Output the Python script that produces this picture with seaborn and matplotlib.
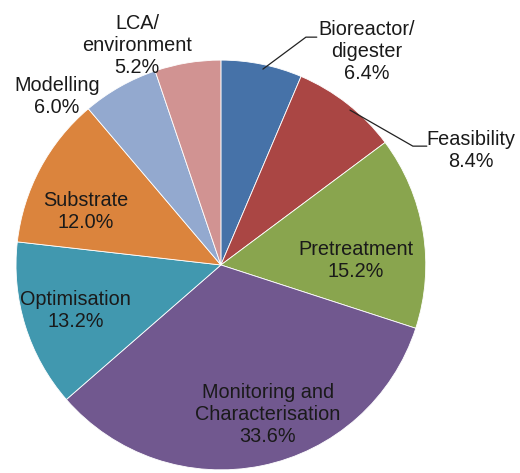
import matplotlib
matplotlib.use("Agg")
import matplotlib.pyplot as plt
import seaborn as sns

sns.set_theme(style="white")
plt.rcParams['font.family'] = ['Liberation Sans', 'DejaVu Sans']

topics = ['Bioreactor/\ndigester', 'Feasibility', 'Pretreatment',
          'Monitoring and\nCharacterisation', 'Optimisation', 'Substrate',
          'Modelling', 'LCA/\nenvironment']
shares = [6.4, 8.4, 15.2, 33.6, 13.2, 12.0, 6.0, 5.2]
colors = ['#4672A8', '#AA4644', '#89A54E', '#71588F',
          '#4198AF', '#DB843D', '#93A9CF', '#D19392']

# label centres (pie centre = 0,0, radius = 1)
label_pos = [(0.71, 1.04), (1.22, 0.56), (0.66, 0.02), (0.23, -0.73),
             (-0.71, -0.22), (-0.66, 0.26), (-0.80, 0.82), (-0.41, 1.07)]
# leader lines for the two outside labels: (start, elbow, end)
leaders = {0: [(0.205, 0.956), (0.415, 1.112), (0.468, 1.112)],
           1: [(0.63, 0.756), (0.937, 0.58), (1.005, 0.58)]}

fig = plt.figure(figsize=(5.2, 4.73), dpi=100)
ax = fig.add_axes([0.0308, 0.0063, 0.788, 0.867])
ax.pie(shares, colors=colors, startangle=90, counterclock=False, radius=1,
       wedgeprops=dict(edgecolor='white', linewidth=0.6))
ax.set_xlim(-1, 1)
ax.set_ylim(-1, 1)
ax.set_aspect('equal')

for i, (name, val) in enumerate(zip(topics, shares)):
    x, y = label_pos[i]
    ax.text(x, y, f'{name}\n{val:.1f}%', ha='center', va='center',
            fontsize=14.3, color='#1a1a1a', linespacing=1.2)

for i, pts in leaders.items():
    xs = [p[0] for p in pts]
    ys = [p[1] for p in pts]
    ax.plot(xs, ys, color='#222222', linewidth=0.9, clip_on=False)

plt.savefig('out.png', dpi=100)
